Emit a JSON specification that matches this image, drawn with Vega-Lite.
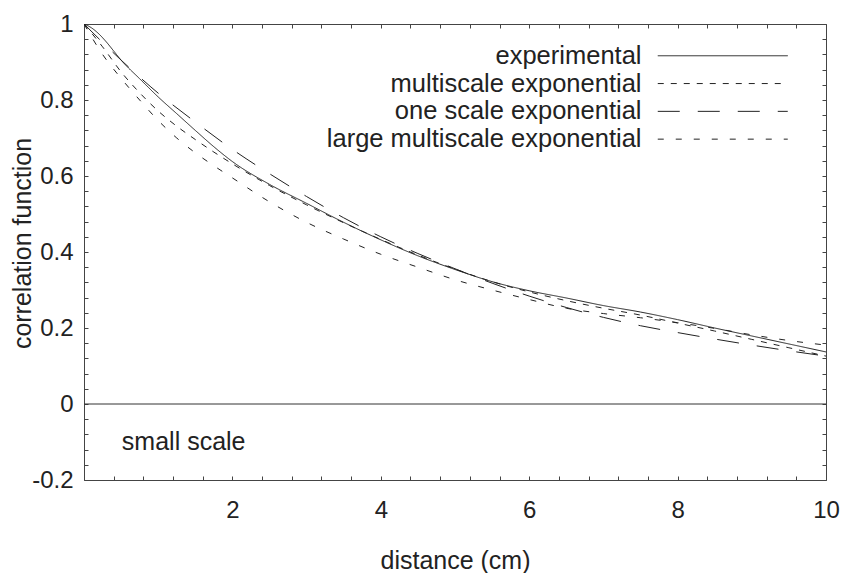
{
  "$schema": "https://vega.github.io/schema/vega-lite/v6.json",
  "autosize": "none",
  "width": 742,
  "height": 456,
  "padding": {"left": 84, "top": 24, "right": 18, "bottom": 93},
  "background": "white",
  "config": {
    "view": {"stroke": "#444", "strokeWidth": 1},
    "font": "Liberation Sans",
    "axis": {"grid": false, "domain": false, "tickColor": "#444", "tickWidth": 1, "tickSize": 4, "offset": -4,
             "labelFont": "Liberation Sans", "labelFontSize": 24, "labelColor": "#222",
             "titleFont": "Liberation Sans", "titleFontSize": 25, "titleFontWeight": "normal", "titleColor": "#222"}
  },
  "resolve": {"axis": {"x": "independent", "y": "independent"}},
  "layer": [
    {
      "data": {"values": [
        {"d": 0, "r": 1.0, "s": "experimental"},
        {"d": 0.1, "r": 0.99, "s": "experimental"},
        {"d": 0.2, "r": 0.974, "s": "experimental"},
        {"d": 0.3, "r": 0.953, "s": "experimental"},
        {"d": 0.4, "r": 0.929, "s": "experimental"},
        {"d": 0.5, "r": 0.905, "s": "experimental"},
        {"d": 0.75, "r": 0.856, "s": "experimental"},
        {"d": 1.0, "r": 0.808, "s": "experimental"},
        {"d": 1.25, "r": 0.764, "s": "experimental"},
        {"d": 1.5, "r": 0.72, "s": "experimental"},
        {"d": 1.75, "r": 0.677, "s": "experimental"},
        {"d": 2.0, "r": 0.638, "s": "experimental"},
        {"d": 2.5, "r": 0.578, "s": "experimental"},
        {"d": 3.0, "r": 0.528, "s": "experimental"},
        {"d": 3.5, "r": 0.478, "s": "experimental"},
        {"d": 4.0, "r": 0.432, "s": "experimental"},
        {"d": 4.5, "r": 0.39, "s": "experimental"},
        {"d": 5.0, "r": 0.354, "s": "experimental"},
        {"d": 5.5, "r": 0.322, "s": "experimental"},
        {"d": 6.0, "r": 0.298, "s": "experimental"},
        {"d": 6.5, "r": 0.279, "s": "experimental"},
        {"d": 7.0, "r": 0.259, "s": "experimental"},
        {"d": 7.5, "r": 0.242, "s": "experimental"},
        {"d": 8.0, "r": 0.222, "s": "experimental"},
        {"d": 8.5, "r": 0.2, "s": "experimental"},
        {"d": 9.0, "r": 0.179, "s": "experimental"},
        {"d": 9.5, "r": 0.158, "s": "experimental"},
        {"d": 10.0, "r": 0.137, "s": "experimental"},

        {"d": 0, "r": 1.0, "s": "multiscale exponential"},
        {"d": 0.25, "r": 0.94, "s": "multiscale exponential"},
        {"d": 0.5, "r": 0.874, "s": "multiscale exponential"},
        {"d": 0.75, "r": 0.819, "s": "multiscale exponential"},
        {"d": 1.0, "r": 0.771, "s": "multiscale exponential"},
        {"d": 1.25, "r": 0.731, "s": "multiscale exponential"},
        {"d": 1.5, "r": 0.696, "s": "multiscale exponential"},
        {"d": 1.75, "r": 0.663, "s": "multiscale exponential"},
        {"d": 2.0, "r": 0.632, "s": "multiscale exponential"},
        {"d": 2.5, "r": 0.575, "s": "multiscale exponential"},
        {"d": 3.0, "r": 0.524, "s": "multiscale exponential"},
        {"d": 3.5, "r": 0.477, "s": "multiscale exponential"},
        {"d": 4.0, "r": 0.433, "s": "multiscale exponential"},
        {"d": 4.5, "r": 0.392, "s": "multiscale exponential"},
        {"d": 5.0, "r": 0.355, "s": "multiscale exponential"},
        {"d": 5.5, "r": 0.322, "s": "multiscale exponential"},
        {"d": 6.0, "r": 0.295, "s": "multiscale exponential"},
        {"d": 6.5, "r": 0.272, "s": "multiscale exponential"},
        {"d": 7.0, "r": 0.252, "s": "multiscale exponential"},
        {"d": 7.5, "r": 0.234, "s": "multiscale exponential"},
        {"d": 8.0, "r": 0.213, "s": "multiscale exponential"},
        {"d": 8.5, "r": 0.192, "s": "multiscale exponential"},
        {"d": 9.0, "r": 0.17, "s": "multiscale exponential"},
        {"d": 9.5, "r": 0.148, "s": "multiscale exponential"},
        {"d": 10.0, "r": 0.126, "s": "multiscale exponential"},

        {"d": 0, "r": 1.0, "s": "one scale exponential"},
        {"d": 0.5, "r": 0.905, "s": "one scale exponential"},
        {"d": 1.0, "r": 0.818, "s": "one scale exponential"},
        {"d": 1.5, "r": 0.742, "s": "one scale exponential"},
        {"d": 2.0, "r": 0.67, "s": "one scale exponential"},
        {"d": 2.5, "r": 0.606, "s": "one scale exponential"},
        {"d": 3.0, "r": 0.546, "s": "one scale exponential"},
        {"d": 3.5, "r": 0.49, "s": "one scale exponential"},
        {"d": 4.0, "r": 0.44, "s": "one scale exponential"},
        {"d": 4.5, "r": 0.396, "s": "one scale exponential"},
        {"d": 5.0, "r": 0.356, "s": "one scale exponential"},
        {"d": 5.5, "r": 0.318, "s": "one scale exponential"},
        {"d": 6.0, "r": 0.284, "s": "one scale exponential"},
        {"d": 6.5, "r": 0.254, "s": "one scale exponential"},
        {"d": 7.0, "r": 0.228, "s": "one scale exponential"},
        {"d": 7.5, "r": 0.206, "s": "one scale exponential"},
        {"d": 8.0, "r": 0.188, "s": "one scale exponential"},
        {"d": 8.5, "r": 0.171, "s": "one scale exponential"},
        {"d": 9.0, "r": 0.155, "s": "one scale exponential"},
        {"d": 9.5, "r": 0.14, "s": "one scale exponential"},
        {"d": 10.0, "r": 0.126, "s": "one scale exponential"},

        {"d": 0, "r": 1.0, "s": "large multiscale exponential"},
        {"d": 0.25, "r": 0.92, "s": "large multiscale exponential"},
        {"d": 0.5, "r": 0.857, "s": "large multiscale exponential"},
        {"d": 0.75, "r": 0.8, "s": "large multiscale exponential"},
        {"d": 1.0, "r": 0.746, "s": "large multiscale exponential"},
        {"d": 1.25, "r": 0.7, "s": "large multiscale exponential"},
        {"d": 1.5, "r": 0.661, "s": "large multiscale exponential"},
        {"d": 1.75, "r": 0.627, "s": "large multiscale exponential"},
        {"d": 2.0, "r": 0.595, "s": "large multiscale exponential"},
        {"d": 2.5, "r": 0.532, "s": "large multiscale exponential"},
        {"d": 3.0, "r": 0.478, "s": "large multiscale exponential"},
        {"d": 3.5, "r": 0.434, "s": "large multiscale exponential"},
        {"d": 4.0, "r": 0.394, "s": "large multiscale exponential"},
        {"d": 4.5, "r": 0.36, "s": "large multiscale exponential"},
        {"d": 5.0, "r": 0.327, "s": "large multiscale exponential"},
        {"d": 5.5, "r": 0.3, "s": "large multiscale exponential"},
        {"d": 6.0, "r": 0.275, "s": "large multiscale exponential"},
        {"d": 6.5, "r": 0.252, "s": "large multiscale exponential"},
        {"d": 7.0, "r": 0.238, "s": "large multiscale exponential"},
        {"d": 7.5, "r": 0.227, "s": "large multiscale exponential"},
        {"d": 8.0, "r": 0.214, "s": "large multiscale exponential"},
        {"d": 8.5, "r": 0.199, "s": "large multiscale exponential"},
        {"d": 9.0, "r": 0.182, "s": "large multiscale exponential"},
        {"d": 9.5, "r": 0.167, "s": "large multiscale exponential"},
        {"d": 10.0, "r": 0.155, "s": "large multiscale exponential"}
      ]},
      "mark": {"type": "line", "color": "#222", "strokeWidth": 1, "clip": true, "interpolate": "monotone"},
      "encoding": {
        "x": {"field": "d", "type": "quantitative",
              "scale": {"domain": [0, 10], "nice": false, "zero": false},
              "axis": {"orient": "bottom", "title": "distance (cm)", "titlePadding": 26, "labelPadding": 18,
                       "values": [0,0.4,0.8,1.2,1.6,2,2.4,2.8,3.2,3.6,4,4.4,4.8,5.2,5.6,6,6.4,6.8,7.2,7.6,8,8.4,8.8,9.2,9.6,10],
                       "labelExpr": "datum.value > 0.1 && abs(datum.value/2 - round(datum.value/2)) < 0.01 ? toString(round(datum.value)) : ''",
                       "labelFlush": false, "labelOverlap": false}},
        "y": {"field": "r", "type": "quantitative",
              "scale": {"domain": [-0.2, 1], "nice": false, "zero": false},
              "axis": {"orient": "left", "title": "correlation function", "titlePadding": -4, "titleY": 219, "labelPadding": 11,
                       "values": [-0.2,-0.16,-0.12,-0.08,-0.04,0,0.04,0.08,0.12,0.16,0.2,0.24,0.28,0.32,0.36,0.4,0.44,0.48,0.52,0.56,0.6,0.64,0.68,0.72,0.76,0.8,0.84,0.88,0.92,0.96,1],
                       "labelExpr": "abs(datum.value*5 - round(datum.value*5)) < 0.01 ? toString(round(datum.value*10)/10) : ''",
                       "labelFlush": false, "labelOverlap": false}},
        "strokeDash": {"field": "s", "type": "nominal",
          "scale": {"domain": ["experimental", "multiscale exponential", "one scale exponential", "large multiscale exponential"],
                    "range": [[1, 0], [6, 7], [22, 18], [6, 12]]},
          "legend": {"orient": "none", "legendX": 626, "legendY": 19, "title": null,
                     "symbolType": "M-10,0H10", "symbolSize": 169, "symbolStrokeWidth": 1, "symbolStrokeColor": "#222",
                     "labelAlign": "right", "labelOffset": -94, "labelFontSize": 25.5, "labelFont": "Liberation Sans",
                     "labelColor": "#222", "labelLimit": 0, "rowPadding": 0.8, "padding": 0}}
      }
    },
    {
      "data": {"values": [{}]},
      "mark": {"type": "rule", "color": "#333", "strokeWidth": 1},
      "encoding": {
        "y": {"datum": 0, "type": "quantitative",
              "axis": {"orient": "right", "title": null, "labels": false,
                       "values": [-0.2,-0.16,-0.12,-0.08,-0.04,0,0.04,0.08,0.12,0.16,0.2,0.24,0.28,0.32,0.36,0.4,0.44,0.48,0.52,0.56,0.6,0.64,0.68,0.72,0.76,0.8,0.84,0.88,0.92,0.96,1]}}
      }
    },
    {
      "data": {"values": [{}]},
      "mark": {"type": "text", "align": "left", "baseline": "alphabetic", "fontSize": 25, "font": "Liberation Sans", "color": "#222"},
      "encoding": {
        "x": {"datum": 0.51, "type": "quantitative",
              "axis": {"orient": "top", "title": null, "labels": false,
                       "values": [0,0.4,0.8,1.2,1.6,2,2.4,2.8,3.2,3.6,4,4.4,4.8,5.2,5.6,6,6.4,6.8,7.2,7.6,8,8.4,8.8,9.2,9.6,10]}},
        "y": {"datum": -0.121, "type": "quantitative", "axis": null},
        "text": {"value": "small scale"}
      }
    }
  ]
}
